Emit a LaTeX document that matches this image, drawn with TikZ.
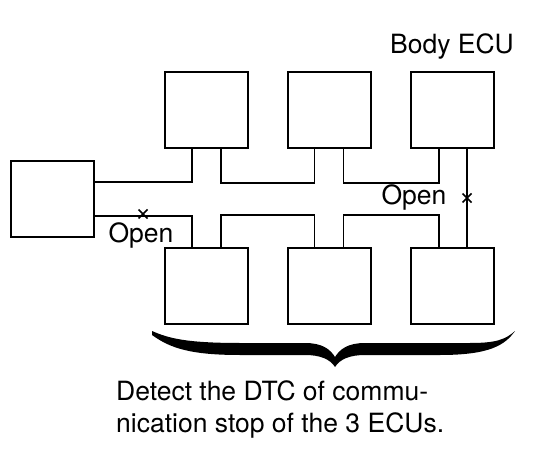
\documentclass[tikz,border=0pt]{standalone}
\usepackage{fontspec}
\setmainfont{TeX Gyre Heros}
\usepackage{tikz}
\usetikzlibrary{positioning,calc}

\begin{document}
\begin{tikzpicture}[x=1pt, y=-1pt,
    ecubox/.style={draw, line width=2pt, minimum width=83pt, minimum height=76pt, inner sep=0pt},
    bus/.style={line width=1.5pt},
    lbl/.style={font=\fontsize{26.5}{32}\selectfont, inner sep=0pt}]
\useasboundingbox (0,0) rectangle (544,452);

% ECU boxes
\node[ecubox] (ecuL) at (52.5,199) {};
\node[ecubox] (ecuTL) at (206.5,110) {};
\node[ecubox] (ecuTM) at (329,110) {};
\node[ecubox] (bodyecu) at (452,110) {};
\node[ecubox] (ecuBL) at (206.5,286) {};
\node[ecubox] (ecuBM) at (329,286) {};
\node[ecubox] (ecuBR) at (452,286) {};
\node[lbl, above=12pt of bodyecu] (bodylbl) {Body ECU};

% upper bus line
\draw[bus] ([yshift=17pt]ecuL.east) -| ([xshift=-14.5pt]ecuTL.south);
\draw[bus] ([xshift=14.5pt]ecuTL.south) -- ++(0,34) -| ([xshift=-14.5pt]ecuTM.south);
\draw[bus] ([xshift=14.5pt]ecuTM.south) -- ++(0,34) -| ([xshift=-13pt]bodyecu.south);

% lower bus line
\draw[bus] ([yshift=-17pt]ecuL.east) -| ([xshift=-14.5pt]ecuBL.north);
\draw[bus] ([xshift=14.5pt]ecuBL.north) -- ++(0,-32) -| ([xshift=-14.5pt]ecuBM.north);
\draw[bus] ([xshift=14.5pt]ecuBM.north) -- ++(0,-32) -| ([xshift=-13pt]ecuBR.north);

% body ECU branch
\draw[bus] ([xshift=15pt]bodyecu.south) -- ([xshift=15pt]ecuBR.north);

% open points
\coordinate (openA) at (143,214);
\coordinate (openB) at (467,198);
\foreach \p in {openA,openB}
  \draw[line width=1.6pt] ($(\p)+(-4.5,-4.5)$) -- ($(\p)+(4.5,4.5)$)
                          ($(\p)+(-4.5,4.5)$) -- ($(\p)+(4.5,-4.5)$);
\node[lbl] (openAlbl) at (141,235) {Open};
\node[lbl] (openBlbl) at (414,197) {Open};

% brace under the bottom row
\fill (152,331) .. controls (168,338) and (185,343) .. (240,343)
  -- (305,343) .. controls (322,343) and (330,349) .. (335,357)
  .. controls (340,349) and (348,343) .. (365,343)
  -- (470,343) .. controls (495,343) and (505,340) .. (515,331)
  .. controls (505,345) and (490,355) .. (440,355)
  -- (365,355) .. controls (350,355) and (340,359) .. (335,367)
  .. controls (330,359) and (320,355) .. (305,355)
  -- (240,355) .. controls (190,355) and (170,348) .. (152,335) -- cycle;

\node[lbl, anchor=west, align=left] (note) at (116,409)
  {Detect the DTC of commu-\\nication stop of the 3 ECUs.};
\end{tikzpicture}
\end{document}
